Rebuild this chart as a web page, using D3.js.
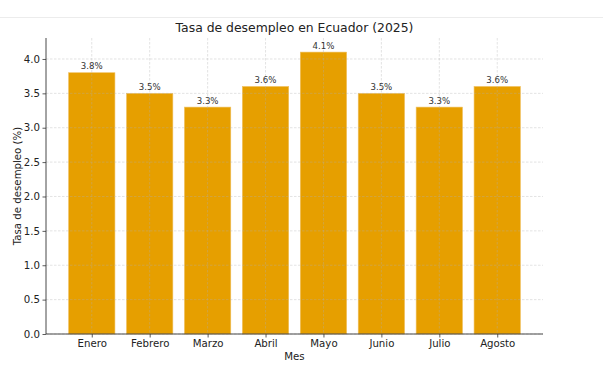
<!DOCTYPE html>
<html><head><meta charset="utf-8">
<script src="https://cdn.jsdelivr.net/npm/d3@7"></script>
<style>body{margin:0;background:#fff}svg{display:block;font-family:"DejaVu Sans",sans-serif}</style>
</head><body>
<script>
const months = ["Enero","Febrero","Marzo","Abril","Mayo","Junio","Julio","Agosto"];
const rates = [3.8,3.5,3.3,3.6,4.1,3.5,3.3,3.6];
const yTicks = [0,0.5,1.0,1.5,2.0,2.5,3.0,3.5,4.0];
const title = "Tasa de desempleo en Ecuador (2025)";
const xLabel = "Mes";
const yLabel = "Tasa de desempleo (%)";

const W = 603, H = 365;
const L = 46, R = 543, T = 38, B = 334;
const svg = d3.select("body").append("svg").attr("width", W).attr("height", H);

svg.append("line").attr("x1",0).attr("x2",W).attr("y1",17.5).attr("y2",17.5).attr("stroke","#ececec").attr("stroke-width",1);

const n = months.length;
const x = d3.scaleLinear().domain([-0.79, n - 1 + 0.79]).range([L, R]);
const y = d3.scaleLinear().domain([0, d3.max(rates) * 1.05]).range([B, T]);
const bw = x(0.8) - x(0);

const g = svg.append("g");
g.selectAll("rect.bar").data(rates).join("rect")
  .attr("x", (d,i) => x(i) - bw/2).attr("width", bw)
  .attr("y", d => y(d)).attr("height", d => B - y(d))
  .attr("fill", "#E69F00").attr("stroke","#f0c060").attr("stroke-width",0.6);

// grid on top
const grid = svg.append("g").attr("stroke","#b0b0b0").attr("stroke-opacity",0.5).attr("stroke-dasharray","2.5,1.5").attr("stroke-width",0.7);
grid.selectAll("line.v").data(months).join("line")
  .attr("x1",(d,i)=>x(i)).attr("x2",(d,i)=>x(i)).attr("y1",T).attr("y2",B);
grid.selectAll("line.h").data(yTicks).join("line")
  .attr("x1",L).attr("x2",R).attr("y1",d=>y(d)).attr("y2",d=>y(d));

// value labels
svg.selectAll("text.val").data(rates).join("text")
  .attr("x",(d,i)=>x(i)).attr("y",d=>y(d)-3.5)
  .attr("text-anchor","middle").attr("font-size","8.6px").attr("fill","#333")
  .text(d=>d.toFixed(1)+"%");

// axes
const xAxis = d3.axisBottom(x).tickValues(d3.range(n)).tickFormat(i=>months[i]).tickSize(3.5).tickPadding(2.5);
const yAxis = d3.axisLeft(y).tickValues(yTicks).tickFormat(d3.format(".1f")).tickSize(3.5).tickPadding(2.5);
const ax = svg.append("g").attr("transform",`translate(0,${B})`).call(xAxis);
const ay = svg.append("g").attr("transform",`translate(${L},0)`).call(yAxis);
[ax, ay].forEach(a => {
  a.select(".domain").remove();
  a.selectAll(".tick line").attr("stroke","#333").attr("stroke-width",0.8);
  a.selectAll(".tick text").attr("font-size","10.2px").attr("fill","#222").attr("font-family","DejaVu Sans");
});
svg.append("line").attr("x1",L).attr("x2",L).attr("y1",T).attr("y2",B).attr("stroke","#333").attr("stroke-width",0.9);
svg.append("line").attr("x1",L).attr("x2",R).attr("y1",B).attr("y2",B).attr("stroke","#333").attr("stroke-width",0.9);

svg.append("text").attr("x",(L+R)/2).attr("y",32).attr("text-anchor","middle").attr("font-size","12.4px").attr("fill","#222").text(title);
svg.append("text").attr("x",(L+R)/2).attr("y",360).attr("text-anchor","middle").attr("font-size","10.2px").attr("fill","#222").text(xLabel);
svg.append("text").attr("transform",`translate(21,${(T+B)/2}) rotate(-90)`).attr("text-anchor","middle").attr("font-size","10.2px").attr("fill","#222").text(yLabel);
</script>
</body></html>
